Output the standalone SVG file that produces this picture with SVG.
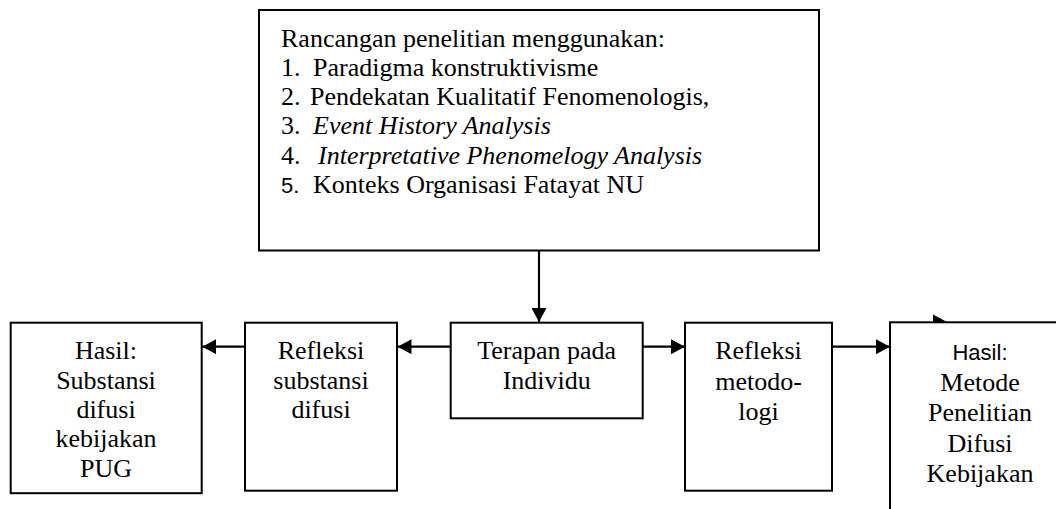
<svg xmlns="http://www.w3.org/2000/svg" width="1056" height="509" viewBox="0 0 1056 509">
<style>
.box{fill:#fff;stroke:#000;stroke-width:2}
.t{font-family:"Liberation Serif","Times New Roman",serif;font-size:26px;fill:#000}
.c{text-anchor:middle}
.i{font-style:italic}
.s{font-family:"Liberation Sans",Arial,sans-serif;font-size:22px;fill:#000}
.ln{stroke:#000;stroke-width:2.2;fill:none}
.ah{fill:#000;stroke:none}
</style>
<defs>
<marker id="arr" viewBox="0 0 14 15" refX="14" refY="7.5" markerWidth="14" markerHeight="15" markerUnits="userSpaceOnUse" orient="auto">
<path d="M0,0 L14,7.5 L0,15 Z" fill="#000"/>
</marker>
</defs>

<g id="design">
<rect class="box" x="259" y="10" width="560" height="240.5"/>
<text class="t" x="281" y="46.5">Rancangan penelitian menggunakan:</text>
<text class="t" y="75.8"><tspan x="281">1.</tspan><tspan x="313">Paradigma konstruktivisme</tspan></text>
<text class="t" y="105.1"><tspan x="281">2.</tspan><tspan x="310">Pendekatan Kualitatif Fenomenologis,</tspan></text>
<text class="t" y="134.4"><tspan x="281">3.</tspan><tspan x="313" class="i">Event History Analysis</tspan></text>
<text class="t" y="163.7"><tspan x="281">4.</tspan><tspan x="318" class="i">Interpretative Phenomelogy Analysis</tspan></text>
<text class="t" y="193"><tspan x="281" class="s">5.</tspan><tspan x="313">Konteks Organisasi Fatayat NU</tspan></text>
</g>

<g id="hasil-substansi">
<rect class="box" x="10.7" y="322.7" width="191" height="170.5"/>
<text class="t c" x="106" y="359.3">Hasil:</text>
<text class="t c" x="106" y="388.6">Substansi</text>
<text class="t c" x="106" y="418">difusi</text>
<text class="t c" x="106" y="447.2">kebijakan</text>
<text class="t c" x="106" y="476.5">PUG</text>
</g>

<g id="refleksi-substansi">
<rect class="box" x="245" y="322.7" width="152" height="168"/>
<text class="t c" x="321" y="359.3">Refleksi</text>
<text class="t c" x="321" y="388.6">substansi</text>
<text class="t c" x="321" y="418">difusi</text>
</g>

<g id="terapan">
<rect class="box" x="450.7" y="322.7" width="192" height="95.6"/>
<text class="t c" x="546.7" y="359.3">Terapan pada</text>
<text class="t c" x="546.7" y="389">Individu</text>
</g>

<g id="refleksi-metodologi">
<rect class="box" x="685" y="322.7" width="147" height="168"/>
<text class="t c" x="758.5" y="359.3">Refleksi</text>
<text class="t c" x="758.5" y="389.5">metodo-</text>
<text class="t c" x="758.5" y="420">logi</text>
</g>

<g id="connectors">
<line class="ln" x1="539" y1="250.5" x2="539" y2="322" marker-end="url(#arr)"/>
<line class="ln" x1="450.7" y1="346.7" x2="397.5" y2="346.7" marker-end="url(#arr)"/>
<line class="ln" x1="245" y1="346.7" x2="202.2" y2="346.7" marker-end="url(#arr)"/>
<line class="ln" x1="642.7" y1="346.7" x2="685" y2="346.7" marker-end="url(#arr)"/>
<line class="ln" x1="832" y1="346.7" x2="890" y2="346.7" marker-end="url(#arr)"/>
<path class="ah" d="M933,314.5 L947,322 L933,329.5 Z"/>
</g>

<g id="hasil-metode">
<rect class="box" x="890" y="322.3" width="220" height="250"/>
<text class="s c" x="980" y="360">Hasil:</text>
<text class="t c" x="980" y="390.5">Metode</text>
<text class="t c" x="980" y="421">Penelitian</text>
<text class="t c" x="980" y="451.5">Difusi</text>
<text class="t c" x="980" y="482">Kebijakan</text>
</g>
</svg>
